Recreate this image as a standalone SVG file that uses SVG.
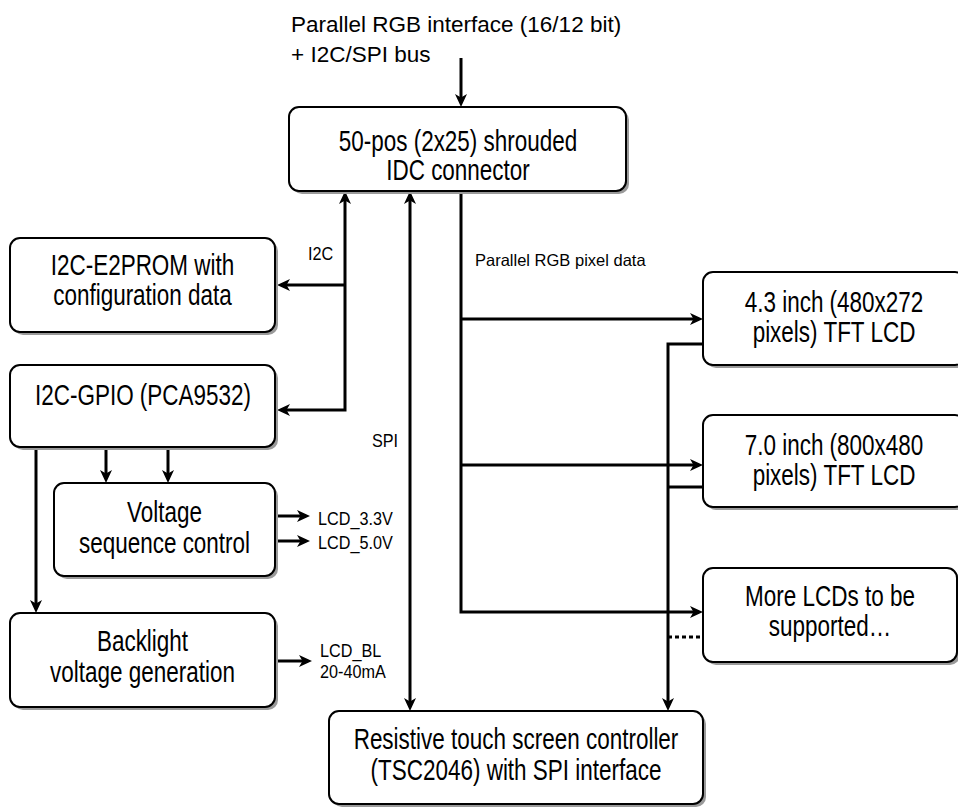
<svg xmlns="http://www.w3.org/2000/svg" width="958" height="807" viewBox="0 0 958 807">
  <style>
    .box { fill: #ffffff; stroke: #000000; stroke-width: 2; }
    .shadow { fill: #9a9a9a; }
    .wire { fill: none; stroke: #000000; stroke-width: 3; stroke-linejoin: miter; }
    .dots { fill: none; stroke: #000000; stroke-width: 3; stroke-dasharray: 4 3; }
    .bt { font-family: "Liberation Sans", Arial, sans-serif; font-size: 29px; text-anchor: middle; fill: #000; }
    .sm { font-family: "Liberation Sans", Arial, sans-serif; font-size: 18px; fill: #000; }
    .top { font-family: "Liberation Sans", Arial, sans-serif; font-size: 22.5px; fill: #000; }
    .bus { font-family: "Liberation Sans", Arial, sans-serif; font-size: 16.5px; fill: #000; }
  </style>
  <defs>
    <marker id="arrow" markerUnits="userSpaceOnUse" markerWidth="14" markerHeight="12" refX="9" refY="6" orient="auto-start-reverse">
      <path d="M0,0 L13,6 L0,12 L3.5,6 z" fill="#000"/>
    </marker>
  </defs>

  <!-- input bus label -->
  <text class="top" x="291" y="31.5">Parallel RGB interface (16/12 bit)</text>
  <text class="top" x="291" y="61.5">+ I2C/SPI bus</text>

  <!-- connectors -->
  <g id="connectors">
    <path class="wire" d="M461,58 L461,103" marker-end="url(#arrow)"/>
    <!-- I2C bus -->
    <path class="wire" d="M345,195 L345,410 L281,410" marker-start="url(#arrow)" marker-end="url(#arrow)"/>
    <path class="wire" d="M345,285 L281,285" marker-end="url(#arrow)"/>
    <!-- SPI bus -->
    <path class="wire" d="M410,195 L410,707" marker-start="url(#arrow)" marker-end="url(#arrow)"/>
    <!-- parallel RGB pixel data -->
    <path class="wire" d="M461,190 L461,612 L699,612" marker-end="url(#arrow)"/>
    <path class="wire" d="M461,319 L699,319" marker-end="url(#arrow)"/>
    <path class="wire" d="M461,465 L699,465" marker-end="url(#arrow)"/>
    <!-- touch panel lines -->
    <path class="wire" d="M703,344 L668,344 L668,707" marker-end="url(#arrow)"/>
    <path class="wire" d="M703,487 L668,487"/>
    <path class="dots" d="M668,637 L703,637"/>
    <!-- GPIO outputs -->
    <path class="wire" d="M106,447 L106,479" marker-end="url(#arrow)"/>
    <path class="wire" d="M168,447 L168,479" marker-end="url(#arrow)"/>
    <path class="wire" d="M36,447 L36,609" marker-end="url(#arrow)"/>
    <!-- supply outputs -->
    <path class="wire" d="M276,516 L306,516" marker-end="url(#arrow)"/>
    <path class="wire" d="M276,541 L306,541" marker-end="url(#arrow)"/>
    <path class="wire" d="M276,661 L308,661" marker-end="url(#arrow)"/>
  </g>

  <!-- connector labels -->
  <text class="sm" transform="translate(308,260) scale(0.9 1)">I2C</text>
  <text class="sm" transform="translate(372,447) scale(0.9 1)">SPI</text>
  <text class="bus" x="475" y="266">Parallel RGB pixel data</text>
  <text class="sm" transform="translate(318,525) scale(0.9 1)">LCD_3.3V</text>
  <text class="sm" transform="translate(318,549) scale(0.9 1)">LCD_5.0V</text>
  <text class="sm" transform="translate(320,657) scale(0.9 1)"><tspan x="0" y="0">LCD_BL</tspan><tspan x="0" y="21">20-40mA</tspan></text>

  <g id="idc">
    <rect class="shadow" x="292" y="110" width="337" height="84" rx="10"/>
    <rect class="box" x="289" y="107" width="337" height="84" rx="10"/>
    <text class="bt" transform="translate(458,151) scale(0.775 1)"><tspan x="0" y="0">50-pos (2x25) shrouded</tspan><tspan x="0" y="29.5">IDC connector</tspan></text>
  </g>

  <g id="e2prom">
    <rect class="shadow" x="13" y="241" width="265" height="94" rx="10"/>
    <rect class="box" x="10" y="238" width="265" height="94" rx="10"/>
    <text class="bt" transform="translate(142.5,275) scale(0.775 1)"><tspan x="0" y="0">I2C-E2PROM with</tspan><tspan x="0" y="30">configuration data</tspan></text>
  </g>

  <g id="gpio">
    <rect class="shadow" x="13" y="368" width="265" height="82" rx="10"/>
    <rect class="box" x="10" y="365" width="265" height="82" rx="10"/>
    <text class="bt" transform="translate(143,405) scale(0.775 1)">I2C-GPIO (PCA9532)</text>
  </g>

  <g id="voltage">
    <rect class="shadow" x="57" y="486" width="221" height="93" rx="10"/>
    <rect class="box" x="54" y="483" width="221" height="93" rx="10"/>
    <text class="bt" transform="translate(164.5,522) scale(0.775 1)"><tspan x="0" y="0">Voltage</tspan><tspan x="0" y="31">sequence control</tspan></text>
  </g>

  <g id="backlight">
    <rect class="shadow" x="13" y="616" width="265" height="94" rx="10"/>
    <rect class="box" x="10" y="613" width="265" height="94" rx="10"/>
    <text class="bt" transform="translate(142.5,651) scale(0.775 1)"><tspan x="0" y="0">Backlight</tspan><tspan x="0" y="31">voltage generation</tspan></text>
  </g>

  <g id="lcd43">
    <rect class="shadow" x="706" y="275" width="262" height="93" rx="10"/>
    <rect class="box" x="703" y="272" width="262" height="93" rx="10"/>
    <text class="bt" transform="translate(834,312) scale(0.775 1)"><tspan x="0" y="0">4.3 inch (480x272</tspan><tspan x="0" y="30">pixels) TFT LCD</tspan></text>
  </g>

  <g id="lcd70">
    <rect class="shadow" x="706" y="418" width="262" height="92" rx="10"/>
    <rect class="box" x="703" y="415" width="262" height="92" rx="10"/>
    <text class="bt" transform="translate(834,455) scale(0.775 1)"><tspan x="0" y="0">7.0 inch (800x480</tspan><tspan x="0" y="30">pixels) TFT LCD</tspan></text>
  </g>

  <g id="more-lcds">
    <rect class="shadow" x="706" y="571" width="254" height="94" rx="10"/>
    <rect class="box" x="703" y="568" width="254" height="94" rx="10"/>
    <text class="bt" transform="translate(830,606) scale(0.775 1)"><tspan x="0" y="0">More LCDs to be</tspan><tspan x="0" y="30">supported…</tspan></text>
  </g>

  <g id="touch">
    <rect class="shadow" x="332" y="714" width="374" height="93" rx="10"/>
    <rect class="box" x="329" y="711" width="374" height="93" rx="10"/>
    <text class="bt" transform="translate(516,749) scale(0.775 1)"><tspan x="0" y="0">Resistive touch screen controller</tspan><tspan x="0" y="31">(TSC2046) with SPI interface</tspan></text>
  </g>
</svg>
